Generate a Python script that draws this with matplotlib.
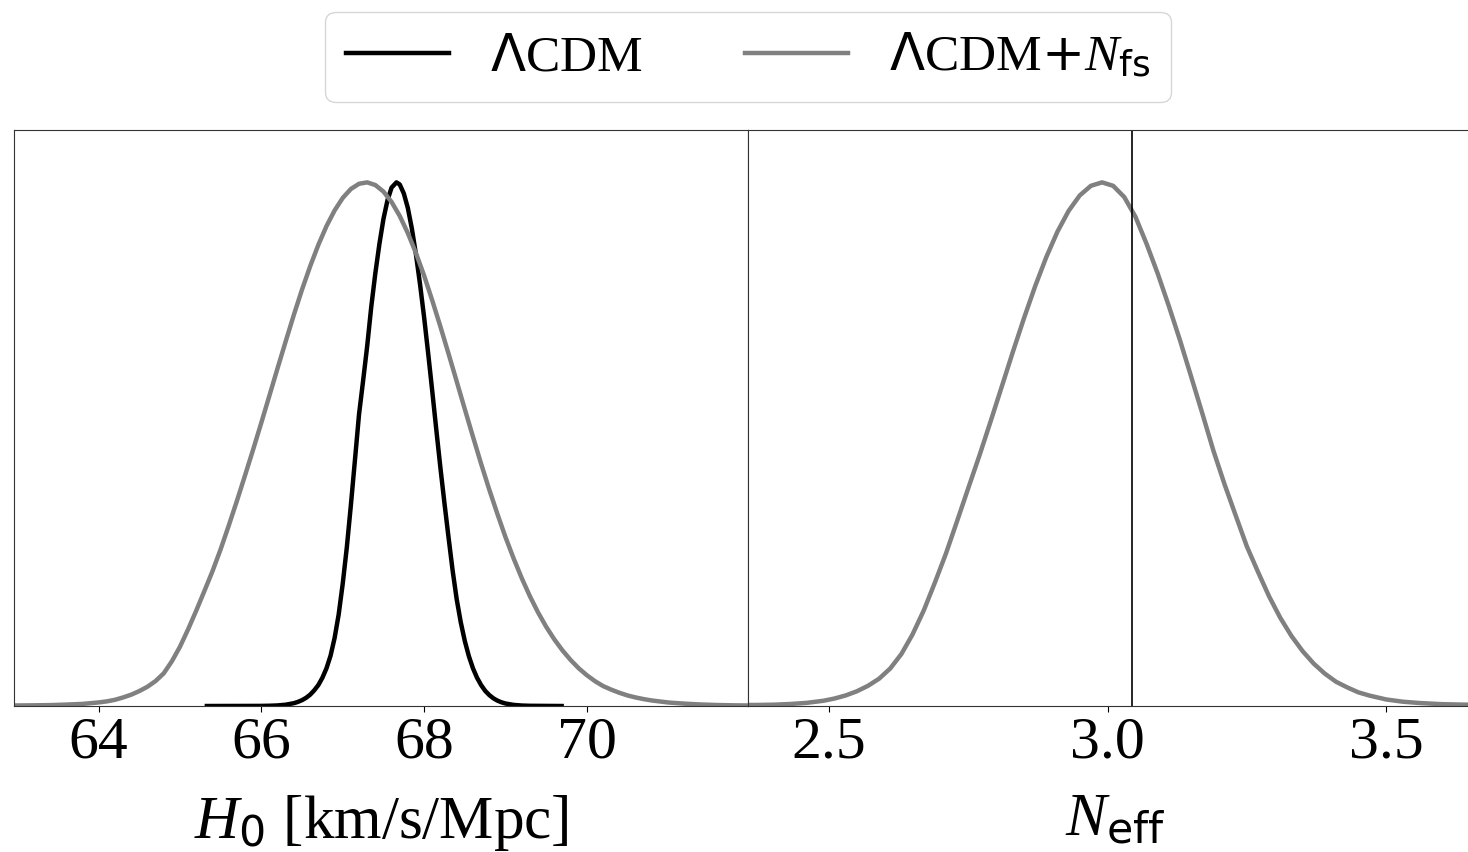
import matplotlib
matplotlib.use("Agg")
import matplotlib.pyplot as plt

plt.rcParams["font.family"] = ["Liberation Serif", "DejaVu Sans"]
plt.rcParams["mathtext.fontset"] = "custom"
plt.rcParams["mathtext.rm"] = "DejaVu Sans"
plt.rcParams["mathtext.it"] = "Liberation Serif:italic"
plt.rcParams["mathtext.bf"] = "DejaVu Sans:bold"

# normalised 1D posteriors (peak = 1)
h0_lcdm = [65.33, 66.00, 66.10, 66.20, 66.30, 66.40, 66.45, 66.50, 66.55, 66.60,
           66.65, 66.70, 66.75, 66.80, 66.85, 66.90, 66.95, 67.00, 67.05, 67.10,
           67.15, 67.20, 67.25, 67.30, 67.35, 67.40, 67.45, 67.50, 67.55, 67.60,
           67.66, 67.70, 67.75, 67.80, 67.85, 67.90, 67.95, 68.00, 68.05, 68.10,
           68.15, 68.20, 68.25, 68.30, 68.35, 68.40, 68.45, 68.50, 68.55, 68.60,
           68.65, 68.70, 68.75, 68.80, 68.85, 68.90, 68.95, 69.00, 69.10, 69.20,
           69.30, 69.69]
p_lcdm = [0.0, 0.0002, 0.0005, 0.0011, 0.0025, 0.0054, 0.0079, 0.0112, 0.0157, 0.0217,
          0.030, 0.040, 0.054, 0.072, 0.096, 0.130, 0.175, 0.234, 0.303, 0.384,
          0.470, 0.557, 0.621, 0.687, 0.762, 0.826, 0.882, 0.930, 0.966, 0.990,
          1.0, 0.996, 0.979, 0.951, 0.911, 0.862, 0.805, 0.742, 0.673, 0.601,
          0.527, 0.455, 0.387, 0.322, 0.259, 0.204, 0.160, 0.124, 0.095, 0.072,
          0.054, 0.040, 0.029, 0.021, 0.0148, 0.0103, 0.0071, 0.0048, 0.0021, 0.0009,
          0.0004, 0.0]

h0_nfs = [62.96, 63.20, 63.40, 63.60, 63.80, 64.00, 64.10, 64.20, 64.30, 64.40,
          64.50, 64.60, 64.70, 64.80, 64.90, 65.00, 65.10, 65.20, 65.30, 65.40,
          65.50, 65.60, 65.70, 65.80, 65.90, 66.00, 66.10, 66.20, 66.30, 66.40,
          66.50, 66.60, 66.70, 66.80, 66.90, 67.00, 67.10, 67.20, 67.30, 67.40,
          67.50, 67.60, 67.70, 67.80, 67.90, 68.00, 68.10, 68.20, 68.30, 68.40,
          68.50, 68.60, 68.70, 68.80, 68.90, 69.00, 69.10, 69.20, 69.30, 69.40,
          69.50, 69.60, 69.70, 69.80, 69.90, 70.00, 70.10, 70.20, 70.30, 70.40,
          70.50, 70.60, 70.70, 70.80, 71.00, 71.20, 71.40, 71.60, 71.80, 71.98]
p_nfs = [0.001, 0.0013, 0.0017, 0.0027, 0.0040, 0.0068, 0.0088, 0.0118, 0.0163, 0.0216,
         0.0285, 0.0368, 0.0477, 0.0624, 0.0854, 0.1133, 0.1466, 0.1823, 0.2197, 0.2578,
         0.2996, 0.3450, 0.3921, 0.4408, 0.4904, 0.5414, 0.5934, 0.6456, 0.6970, 0.7475,
         0.7955, 0.8400, 0.8806, 0.9164, 0.9464, 0.9703, 0.9874, 0.9973, 1.0, 0.9949,
         0.9824, 0.9625, 0.9359, 0.9030, 0.8647, 0.8218, 0.7744, 0.7246, 0.6728, 0.6200,
         0.5668, 0.5143, 0.4627, 0.4135, 0.3670, 0.3224, 0.2817, 0.2440, 0.2096, 0.1787,
         0.1513, 0.1272, 0.1062, 0.0879, 0.0720, 0.0587, 0.0474, 0.0380, 0.0312, 0.0252,
         0.0201, 0.0163, 0.0131, 0.0105, 0.0067, 0.0045, 0.0029, 0.0019, 0.0013, 0.001]

neff_nfs = [2.355, 2.37, 2.40, 2.43, 2.46, 2.49, 2.51, 2.53, 2.55, 2.57,
            2.59, 2.61, 2.63, 2.65, 2.67, 2.69, 2.71, 2.73, 2.75, 2.77,
            2.79, 2.81, 2.83, 2.85, 2.87, 2.89, 2.91, 2.93, 2.95, 2.97,
            2.99, 3.01, 3.03, 3.05, 3.07, 3.09, 3.11, 3.13, 3.15, 3.17,
            3.19, 3.21, 3.23, 3.25, 3.27, 3.29, 3.31, 3.33, 3.35, 3.37,
            3.39, 3.41, 3.43, 3.45, 3.47, 3.50, 3.53, 3.56, 3.60, 3.64, 3.672]
p_neff = [0.002, 0.0020, 0.0025, 0.0038, 0.0060, 0.0100, 0.0143, 0.0202, 0.0281, 0.0386,
          0.0522, 0.0718, 0.0994, 0.1369, 0.1823, 0.2356, 0.2915, 0.3535, 0.4162, 0.4784,
          0.5434, 0.6097, 0.6763, 0.7408, 0.8017, 0.8573, 0.9058, 0.9454, 0.9750, 0.9934,
          1.0, 0.9934, 0.9718, 0.9343, 0.8825, 0.8257, 0.7636, 0.6983, 0.6289, 0.5588,
          0.4874, 0.4231, 0.3636, 0.3046, 0.2560, 0.2090, 0.1683, 0.1337, 0.1048, 0.0809,
          0.0617, 0.0463, 0.0356, 0.0261, 0.0199, 0.0125, 0.0082, 0.0057, 0.0035, 0.0026, 0.0023]

NEFF_SM = 3.044
H0_TICKS = [64, 66, 68, 70]
NEFF_TICKS = [2.5, 3.0, 3.5]
NEFF_TICKLABELS = ["2.5", "3.0", "3.5"]

W, H = 1468, 852
fig = plt.figure(figsize=(W / 100, H / 100), dpi=100)
# two panels sharing the middle spine; the right one runs past the canvas edge
ax1 = fig.add_axes([14 / W, 146 / H, 734 / W, 576 / H])
ax2 = fig.add_axes([748 / W, 146 / H, 734 / W, 576 / H])

lw = 3.2
l1, = ax1.plot(h0_lcdm, p_lcdm, color="black", lw=lw)
l2, = ax1.plot(h0_nfs, p_nfs, color="grey", lw=lw)
ax2.plot(neff_nfs, p_neff, color="grey", lw=lw)
ax2.axvline(NEFF_SM, color="black", lw=1.2)

ax1.set_xlim(62.96, 71.98)
ax2.set_xlim(2.3546, 3.672)
ax1.set_xticks(H0_TICKS)
ax2.set_xticks(NEFF_TICKS)
ax2.set_xticklabels(NEFF_TICKLABELS)

for ax in (ax1, ax2):
    ax.set_ylim(0, 1.1)
    ax.set_yticks([])
    ax.tick_params(axis="x", labelsize=43, length=4)
    for s in ax.spines.values():
        s.set_color("#333")

ax1.set_xlabel(r"$H_0$ [km/s/Mpc]", fontsize=44, labelpad=16)
ax2.set_xlabel(r"$N_{\rm eff}$", fontsize=44, labelpad=16)

fig.legend([l1, l2], [r"$\Lambda$CDM", r"$\Lambda$CDM$+N_{\rm fs}$"],
           loc="upper center", bbox_to_anchor=(748 / W, 1 - 12 / H),
           ncol=2, fontsize=37, borderaxespad=0)

fig.savefig("out.png", dpi=100)
